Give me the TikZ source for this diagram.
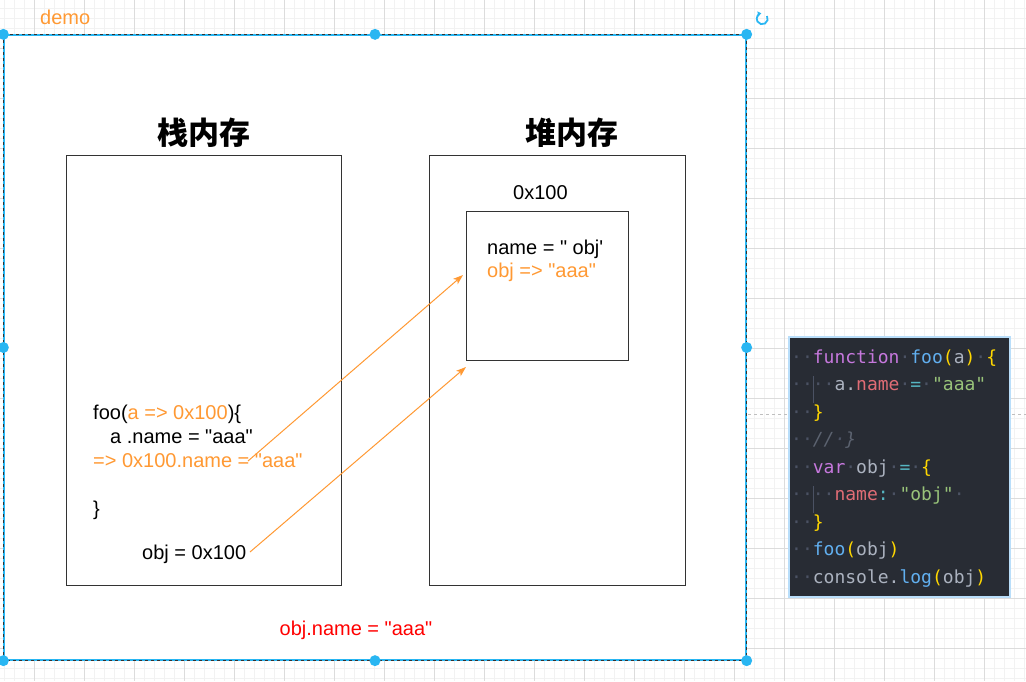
\documentclass[tikz,border=0pt]{standalone}
\usepackage{fontspec}
\newfontfamily\arial{Liberation Sans}
\newfontfamily\cjk{Noto Sans CJK SC}
\newfontfamily\codefont{DejaVu Sans Mono}
\usetikzlibrary{arrows.meta}

\definecolor{gridminor}{HTML}{F2F2F2}
\definecolor{gridmajor}{HTML}{DCDCDC}
\definecolor{selblue}{HTML}{29B6F2}
\definecolor{accent}{HTML}{FF9933}
\definecolor{boxline}{HTML}{333333}
\definecolor{cdbg}{HTML}{282C34}
\definecolor{cdglow}{HTML}{B9DEFA}
\definecolor{ckw}{HTML}{C678DD}
\definecolor{cfn}{HTML}{61AFEF}
\definecolor{cbr}{HTML}{FFD700}
\definecolor{cpl}{HTML}{ABB2BF}
\definecolor{cpr}{HTML}{E06C75}
\definecolor{cop}{HTML}{56B6C2}
\definecolor{cst}{HTML}{98C379}
\definecolor{ccm}{HTML}{5C6370}
\definecolor{cws}{HTML}{4B5263}

% code colouring
\newcommand\cdkw[1]{\textcolor{ckw}{#1}}
\newcommand\cdfn[1]{\textcolor{cfn}{#1}}
\newcommand\cdbr[1]{\textcolor{cbr}{#1}}
\newcommand\cdpl[1]{\textcolor{cpl}{#1}}
\newcommand\cdpr[1]{\textcolor{cpr}{#1}}
\newcommand\cdop[1]{\textcolor{cop}{#1}}
\newcommand\cdst[1]{\textcolor{cst}{#1}}
\newcommand\cdcm[1]{\textcolor{ccm}{\itshape #1}}
\newcommand\wsd{\textcolor{cws}{·}}

\begin{document}
\begin{tikzpicture}[
    x=1pt, y=-1pt,
    container/.style={
        fill=white,
        draw=selblue,
        line width=1.3pt,
        minimum width=742pt,
        minimum height=625pt,
        inner sep=0pt
    },
    memory/.style={
        draw=boxline,
        line width=1pt,
        inner sep=0pt
    },
    title/.style={
        font={\cjk\bfseries\fontsize{31}{36}\selectfont},
        inner sep=0pt
    },
    lbl/.style={
        font={\arial\fontsize{20}{24}\selectfont},
        inner sep=0pt,
        anchor=base west
    },
    codeline/.style={
        font={\codefont\fontsize{18}{22}\selectfont},
        inner sep=0pt,
        anchor=base west
    },
    handle/.style={fill=selblue},
    flow/.style={
        -{Stealth[length=10pt,width=7pt,inset=2.5pt]},
        draw=accent,
        line width=1pt
    }
]
\useasboundingbox (0,0) rectangle (1026,681);

% background grid
\fill[white] (0,0) rectangle (1026,681);
\foreach \gx in {4,14,...,1024} \draw[gridminor, line width=0.8pt] (\gx,0) -- (\gx,681);
\foreach \gy in {8,18,...,678} \draw[gridminor, line width=0.8pt] (0,\gy) -- (1026,\gy);
\foreach \gx in {34,84,...,984} \draw[gridmajor, line width=0.8pt] (\gx,0) -- (\gx,681);
\foreach \gy in {48,98,...,648} \draw[gridmajor, line width=0.8pt] (0,\gy) -- (1026,\gy);
\draw[gray!50, dashed, line width=0.8pt] (748,414) -- (1026,414);

% selected container
\node[container] (frame) at (375,347.5) {};
\draw[boxline, line width=0.8pt, dash pattern=on 3pt off 3pt]
    (frame.north west) rectangle (frame.south east);
\node[lbl, text=accent] (demo) at (40,24) {demo};

\node[title] (stacktitle) at (203.5,133) {栈内存};
\node[title] (heaptitle) at (572,133) {堆内存};

\node[memory, minimum width=275pt, minimum height=430pt] (stack) at (203.5,370) {};
\node[memory, minimum width=256pt, minimum height=430pt] (heap) at (557,370) {};
\node[memory, minimum width=162pt, minimum height=149pt] (obj) at (547,285.5) {};

\node[lbl] (addr) at (513,199) {0x100};
\node[lbl] (objname) at (487,254) {name = " obj'};
\node[lbl, text=accent] (objnew) at (487,277) {obj => "aaa"};

\node[lbl] (fooline) at (93,419) {foo(\textcolor{accent}{a => 0x100})\{};
\node[lbl] (aname) at (110,443) {a .name = "aaa"};
\node[lbl, text=accent] (refname) at (93,467) {=> 0x100.name = "aaa"};
\node[lbl] (closing) at (93,515) {\}};
\node[lbl] (objline) at (142,559) {obj = 0x100};

\node[lbl, anchor=base, text=red] (result) at (356,635) {obj.name = "aaa"};

\coordinate (refstart) at (248,461);
\coordinate (objstart) at (250,552);
\coordinate (tip1) at (463,275);
\coordinate (tip2) at (466,367);
\draw[flow] (refstart) -- (tip1);
\draw[flow] (objstart) -- (tip2);

% handles
\foreach \a in {north west,north,north east,west,east,south west,south,south east}
    \fill[handle] (frame.\a) circle (5.5);
\draw[selblue, line width=1.8pt, -{Triangle[length=3.5pt,width=5pt]}]
    (767,16) arc[start angle=-30, end angle=260, radius=5.5];

% code panel
\node[fill=cdbg, draw=cdglow, line width=2.5pt, minimum width=221pt,
      minimum height=260pt, inner sep=0pt] (codepanel) at (899.5,467) {};
\draw[cws, line width=0.6pt] (813,376) -- (813,403);
\draw[cws, line width=0.6pt] (813,486) -- (813,513);
\node[codeline] (code1) at (791,363)
    {\wsd\wsd\cdkw{function}\wsd\cdfn{foo}\cdbr{(}\cdpl{a}\cdbr{)}\wsd\cdbr{\{}};
\node[codeline] (code2) at (791,390.5)
    {\wsd\wsd\wsd\wsd\cdpl{a.}\cdpr{name}\wsd\cdop{=}\wsd\cdst{"aaa"}};
\node[codeline] (code3) at (791,418) {\wsd\wsd\cdbr{\}}};
\node[codeline] (code4) at (791,445.5) {\wsd\wsd\cdcm{//\wsd\}}};
\node[codeline] (code5) at (791,473)
    {\wsd\wsd\cdkw{var}\wsd\cdpl{obj}\wsd\cdop{=}\wsd\cdbr{\{}};
\node[codeline] (code6) at (791,500.5)
    {\wsd\wsd\wsd\wsd\cdpr{name}\cdop{:}\wsd\cdst{"obj"}\wsd};
\node[codeline] (code7) at (791,528) {\wsd\wsd\cdbr{\}}};
\node[codeline] (code8) at (791,555.5)
    {\wsd\wsd\cdfn{foo}\cdbr{(}\cdpl{obj}\cdbr{)}};
\node[codeline] (code9) at (791,583)
    {\wsd\wsd\cdpl{console.}\cdfn{log}\cdbr{(}\cdpl{obj}\cdbr{)}};
\end{tikzpicture}
\end{document}
